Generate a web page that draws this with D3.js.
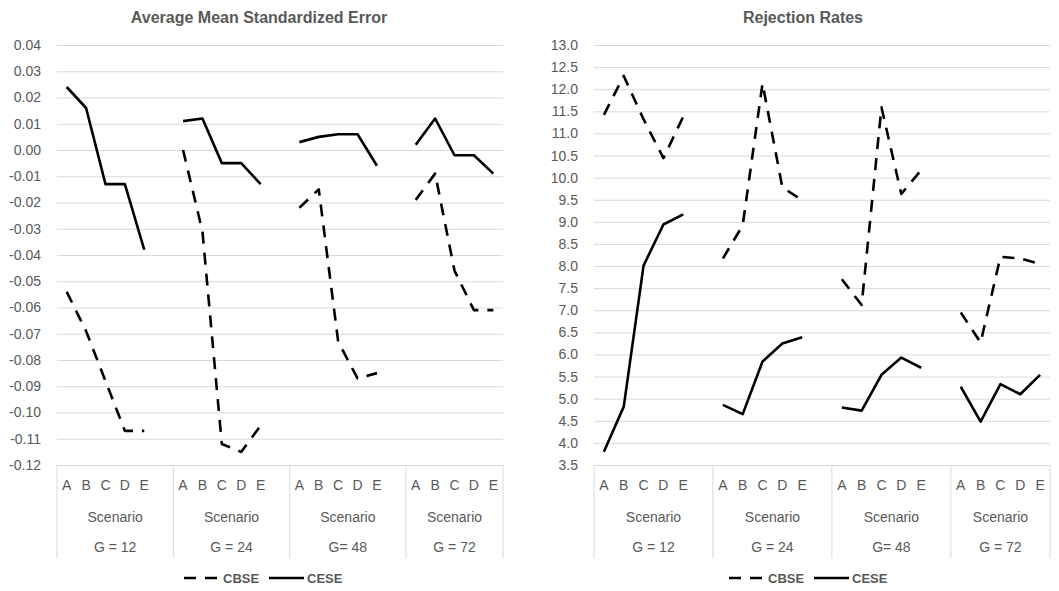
<!DOCTYPE html>
<html>
<head>
<meta charset="utf-8">
<script src="https://cdn.jsdelivr.net/npm/d3@7"></script>
<style>
  body { margin: 0; background: #fff; }
  text { font-family: 'Liberation Sans', Arial, sans-serif; fill: #595959; }
</style>
</head>
<body>
<div class="container"></div>
<script>
const groups = ['G = 12', 'G = 24', 'G= 48', 'G = 72'];
const scenarios = ['A', 'B', 'C', 'D', 'E'];

// average mean standardized error, one row per group
const mseCBSE = [
  [-0.054, -0.069, -0.088, -0.107, -0.107],
  [0.000, -0.031, -0.112, -0.115, -0.105],
  [-0.022, -0.015, -0.073, -0.087, -0.085],
  [-0.019, -0.009, -0.046, -0.061, -0.061]
];
const mseCESE = [
  [0.024, 0.016, -0.013, -0.013, -0.038],
  [0.011, 0.012, -0.005, -0.005, -0.013],
  [0.003, 0.005, 0.006, 0.006, -0.006],
  [0.002, 0.012, -0.002, -0.002, -0.009]
];

// rejection rates
const rrCBSE = [
  [11.42, 12.30, 11.32, 10.44, 11.38],
  [8.17, 8.92, 12.13, 9.78, 9.49],
  [7.70, 7.12, 11.59, 9.63, 10.17],
  [6.95, 6.27, 8.21, 8.17, 8.05]
];
const rrCESE = [
  [3.80, 4.82, 8.01, 8.94, 9.17],
  [4.86, 4.65, 5.84, 6.25, 6.39],
  [4.80, 4.73, 5.54, 5.93, 5.70],
  [5.27, 4.48, 5.33, 5.10, 5.54]
];

const mseTicks = d3.range(-12, 5).map(i => i / 100);
const rrTicks = d3.range(7, 27).map(i => i / 2);

const width = 1059;
const height = 591;
const plotTop = 45;
const plotBottom = 465;

// category slots: each group gets A..E plus a blank slot, except the last
const slots = [];
groups.forEach((g, gi) => {
  scenarios.forEach(s => slots.push(`${gi}-${s}`));
  if (gi < groups.length - 1) slots.push(`${gi}-_`);
});

const svg = d3.select('.container').append('svg').attr('width', width).attr('height', height);

const renderChart = opts => {
  const chart = svg.append('g').attr('class', 'chart');

  const xScale = d3.scaleBand().domain(slots).range([opts.left, opts.right]);
  const yScale = d3.scaleLinear().domain(d3.extent(opts.ticks)).range([plotBottom, plotTop]);

  chart
    .append('text')
    .text(opts.title)
    .attr('x', opts.titleX)
    .attr('y', 23)
    .attr('text-anchor', 'middle')
    .style('font-size', '16px')
    .style('font-weight', 'bold');

  const leftAxis = d3
    .axisLeft(yScale)
    .tickValues(opts.ticks)
    .tickSize(-(opts.right - opts.left))
    .tickPadding(16)
    .tickFormat(v => v.toFixed(opts.digits));

  const axisGroup = chart.append('g').attr('transform', `translate(${opts.left},0)`);
  leftAxis(axisGroup);
  axisGroup.select('.domain').remove();
  axisGroup.selectAll('line').attr('stroke', '#d9d9d9');
  axisGroup
    .selectAll('text')
    .style('font-size', '14px')
    .style('font-family', "'Liberation Sans', Arial, sans-serif")
    .attr('fill', '#595959');

  // group separators below the plot
  const bounds = groups.map((g, gi) => xScale(`${gi}-A`)).concat([opts.right]);
  chart
    .selectAll('.sep')
    .data(bounds)
    .enter()
    .append('line')
    .attr('x1', d => d)
    .attr('x2', d => d)
    .attr('y1', plotBottom)
    .attr('y2', 558)
    .attr('stroke', '#d9d9d9');

  const half = xScale.bandwidth() / 2;

  chart
    .selectAll('.cat')
    .data(groups.flatMap((g, gi) => scenarios.map(s => ({ gi, s }))))
    .enter()
    .append('text')
    .text(d => d.s)
    .attr('x', d => xScale(`${d.gi}-${d.s}`) + half)
    .attr('y', 485)
    .attr('dy', '0.35em')
    .attr('text-anchor', 'middle')
    .style('font-size', '14px');

  groups.forEach((g, gi) => {
    const cx = (bounds[gi] + bounds[gi + 1]) / 2;
    chart.append('text').text('Scenario').attr('x', cx).attr('y', 517).attr('dy', '0.35em')
      .attr('text-anchor', 'middle').style('font-size', '14px');
    chart.append('text').text(g).attr('x', cx).attr('y', 547).attr('dy', '0.35em')
      .attr('text-anchor', 'middle').style('font-size', '14px');
  });

  const line = d3
    .line()
    .x(d => xScale(d.key) + half)
    .y(d => yScale(d.value));

  const series = [
    { rows: opts.cbse, dash: '12,9' },
    { rows: opts.cese, dash: null }
  ];

  series.forEach(se => {
    se.rows.forEach((row, gi) => {
      const pts = row.map((v, i) => ({ key: `${gi}-${scenarios[i]}`, value: v }));
      chart
        .append('path')
        .attr('d', line(pts))
        .attr('fill', 'none')
        .attr('stroke', '#000')
        .attr('stroke-width', 2.6)
        .attr('stroke-linejoin', 'round')
        .attr('stroke-dasharray', se.dash);
    });
  });

  // legend
  const lg = chart.append('g').attr('transform', `translate(${opts.legendX},578)`);
  lg.append('line').attr('x1', 0).attr('x2', 33).attr('stroke', '#000').attr('stroke-width', 2.6)
    .attr('stroke-dasharray', '12,9');
  lg.append('text').text('CBSE').attr('x', 39).attr('dy', '0.35em')
    .style('font-size', '13px').style('font-weight', 'bold');
  lg.append('line').attr('x1', 85).attr('x2', 120).attr('stroke', '#000').attr('stroke-width', 2.6);
  lg.append('text').text('CESE').attr('x', 123).attr('dy', '0.35em')
    .style('font-size', '13px').style('font-weight', 'bold');
};

renderChart({
  title: 'Average Mean Standardized Error',
  titleX: 259,
  left: 57,
  right: 503,
  ticks: mseTicks,
  digits: 2,
  cbse: mseCBSE,
  cese: mseCESE,
  legendX: 184
});

renderChart({
  title: 'Rejection Rates',
  titleX: 803,
  left: 594,
  right: 1050,
  ticks: rrTicks,
  digits: 1,
  cbse: rrCBSE,
  cese: rrCESE,
  legendX: 729
});
</script>
</body>
</html>
